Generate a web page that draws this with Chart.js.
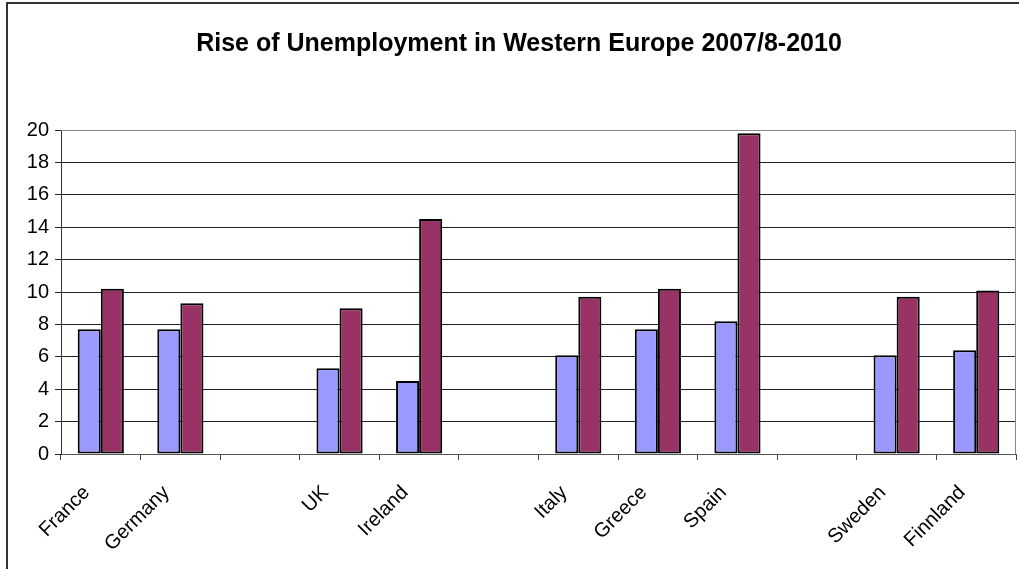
<!DOCTYPE html>
<html>
<head>
<meta charset="utf-8">
<script src="https://cdn.jsdelivr.net/npm/chart.js@4/dist/chart.umd.min.js"></script>
<style>
  body { margin: 0; background: #fff; }
  canvas { display: block; }
</style>
</head>
<body>
<canvas id="unemployChart" width="1019" height="569"></canvas>
<script>
// countries, blank slots are the gaps between the groups
const countries = ['France', 'Germany', '', 'UK', 'Ireland', '', 'Italy', 'Greece', 'Spain', '', 'Sweden', 'Finnland'];
const rate2007 = [7.7, 7.7, null, 5.3, 4.5, null, 6.1, 7.7, 8.2, null, 6.1, 6.4];
const rate2010 = [10.2, 9.3, null, 9.0, 14.5, null, 9.7, 10.2, 19.8, null, 9.7, 10.1];
const yTicks = [0, 2, 4, 6, 8, 10, 12, 14, 16, 18, 20];

// outer frame + grey border round the plot area
const frames = {
    id: 'frames',
    beforeDatasetsDraw(chart) {
        const ctx = chart.ctx;
        const a = chart.chartArea;
        ctx.save();
        ctx.strokeStyle = '#888';
        ctx.lineWidth = 1;
        ctx.beginPath();
        ctx.moveTo(a.left, a.top + 0.5);
        ctx.lineTo(a.right - 0.5, a.top + 0.5);
        ctx.lineTo(a.right - 0.5, a.bottom);
        ctx.stroke();
        ctx.restore();
    },
    afterDraw(chart) {
        const ctx = chart.ctx;
        ctx.save();
        ctx.strokeStyle = '#333';
        ctx.lineWidth = 2;
        ctx.beginPath();
        ctx.moveTo(7, chart.height);
        ctx.lineTo(7, 3);
        ctx.lineTo(chart.width, 3);
        ctx.stroke();
        ctx.restore();
    }
};

const ctx = document.querySelector('#unemployChart').getContext('2d');
const unemployChart = new Chart(ctx, {
    type: 'bar',
    data: {
        labels: countries,
        datasets: [{
            label: '2007/8',
            data: rate2007,
            backgroundColor: '#9999ff',
            borderColor: '#000',
            borderWidth: 2,
            borderSkipped: false
        }, {
            label: '2010',
            data: rate2010,
            backgroundColor: '#993366',
            borderColor: '#000',
            borderWidth: 2,
            borderSkipped: false
        }]
    },
    options: {
        responsive: false,
        animation: false,
        devicePixelRatio: 1,
        layout: {
            padding: { left: 22, right: 3, top: 0, bottom: 0 }
        },
        datasets: {
            bar: { categoryPercentage: 0.58, barPercentage: 1.0 }
        },
        plugins: {
            legend: { display: false },
            tooltip: { enabled: false },
            title: {
                display: true,
                text: 'Rise of Unemployment in Western Europe 2007/8-2010',
                color: '#000',
                font: { family: 'Liberation Sans, Arial, sans-serif', size: 25, weight: 'bold', lineHeight: 1.2 },
                padding: { top: 29, bottom: 71 }
            }
        },
        scales: {
            x: {
                afterFit: s => { s.height = 115; },
                grid: {
                    offset: true,
                    drawOnChartArea: false,
                    drawTicks: true,
                    tickLength: 6,
                    color: '#444'
                },
                border: { color: '#555', width: 1 },
                ticks: {
                    autoSkip: false,
                    maxRotation: 45,
                    minRotation: 45,
                    padding: 21,
                    labelOffset: -14,
                    color: '#000',
                    font: { family: 'Liberation Sans, Arial, sans-serif', size: 20 }
                }
            },
            y: {
                min: 0,
                max: 20,
                afterFit: s => { s.width = 39; },
                afterBuildTicks: s => { s.ticks = yTicks.map(v => ({ value: v })); },
                grid: {
                    color: '#222',
                    lineWidth: 1,
                    tickLength: 6
                },
                border: { color: '#333', width: 1 },
                ticks: {
                    padding: 6,
                    color: '#000',
                    font: { family: 'Liberation Sans, Arial, sans-serif', size: 20 }
                }
            }
        }
    },
    plugins: [frames]
});
</script>
</body>
</html>
